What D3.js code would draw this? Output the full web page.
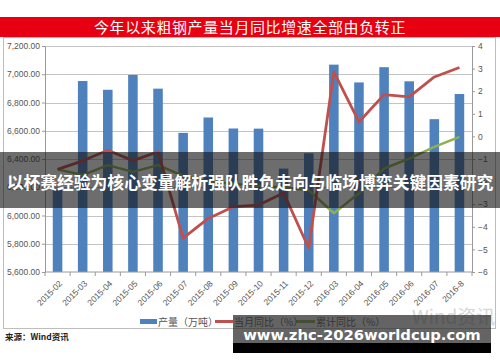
<!DOCTYPE html>
<html>
<head>
<meta charset="utf-8">
<script src="https://cdn.jsdelivr.net/npm/d3@7"></script>
<style>
  body { margin: 0; background: #fff; }
  svg { display: block; font-family: "Liberation Sans", "Noto Sans CJK SC", sans-serif; }
</style>
</head>
<body>
<div id="chart"></div>
<script>
var months = ["2015-02","2015-03","2015-04","2015-05","2015-06","2015-07","2015-08","2015-09","2015-10","2015-11","2015-12","2016-03","2016-04","2016-05","2016-06","2016-07","2016-8"];
var output = [6190,6952,6890,6995,6898,6585,6694,6616,6615,6332,6440,7068,6942,7050,6950,6682,6860];
var monthYoY = [-1.46,-1.08,-0.61,-1.07,-0.68,-4.5,-3.63,-3.11,-3.04,-2.5,-4.95,2.85,0.64,1.85,1.75,2.63,3.05];
var cumYoY = [-1.46,-1.71,-1.27,-1.57,-1.27,-1.75,-2.0,-2.1,-2.2,-2.25,-2.38,-3.4,-2.52,-1.42,-0.98,-0.46,-0.02];
var leftTicks = [5600,5800,6000,6200,6400,6600,6800,7000,7200];
var rightTicks = [-6,-5,-4,-3,-2,-1,0,1,2,3,4];
var legendNames = ["产量（万吨）","当月同比（%）","累计同比（%）"];

(function() {
    var width = 500, height = 362;
    var plotLeft = 45, plotRight = 472, plotTop = 46, plotBottom = 272;

    var svg = d3.select("#chart").append("svg")
        .attr("width", width)
        .attr("height", height);

    // title band
    svg.append("rect").attr("x", 0).attr("y", 17).attr("width", 500).attr("height", 20).attr("fill", "#e60012");
    svg.append("text")
        .attr("x", 250).attr("y", 32.5)
        .attr("text-anchor", "middle")
        .attr("fill", "#fff")
        .style("font-family", "'Noto Sans CJK SC', sans-serif")
        .style("font-size", "15px")
        .style("letter-spacing", "0.6px")
        .text("今年以来粗钢产量当月同比增速全部由负转正");

    // frame
    svg.append("rect").attr("x", 3.5).attr("y", 37.5).attr("width", 492).attr("height", 291)
        .attr("fill", "none").attr("stroke", "#bdbdbd");

    var x = d3.scaleBand().domain(months).range([plotLeft, plotRight]).paddingInner(0.62).paddingOuter(0.31);
    var yL = d3.scaleLinear().domain([5600, 7200]).range([plotBottom, plotTop]);
    var yR = d3.scaleLinear().domain([-6, 4]).range([plotBottom, plotTop]);
    var cx = function(m) { return x(m) + x.bandwidth() / 2; };

    // gridlines
    svg.append("g").selectAll("line").data(leftTicks.slice(1)).enter().append("line")
        .attr("x1", plotLeft).attr("x2", plotRight)
        .attr("y1", function(d) { return Math.round(yL(d)) + 0.5; })
        .attr("y2", function(d) { return Math.round(yL(d)) + 0.5; })
        .attr("stroke", "#c4c4c4");

    // bars
    svg.append("g").selectAll("rect").data(output).enter().append("rect")
        .attr("x", function(d, i) { return x(months[i]); })
        .attr("y", function(d) { return yL(d); })
        .attr("width", x.bandwidth())
        .attr("height", function(d) { return plotBottom - yL(d); })
        .attr("fill", "#4f81bd");

    // axes
    var axL = svg.append("g").attr("transform", "translate(" + plotLeft + ",0)")
        .call(d3.axisLeft(yL).tickValues(leftTicks).tickFormat(d3.format(",.2f")).tickSize(3).tickSizeOuter(0));
    var axR = svg.append("g").attr("transform", "translate(" + plotRight + ",0)")
        .call(d3.axisRight(yR).tickValues(rightTicks).tickSize(3).tickSizeOuter(0));
    [axL, axR].forEach(function(ax) {
        ax.select(".domain").attr("stroke", "#9a9a9a");
        ax.selectAll(".tick line").attr("stroke", "#9a9a9a");
        ax.selectAll("text").attr("fill", "#555").style("font-size", "8.5px").style("font-family", "'Liberation Sans', sans-serif");
    });
    axL.selectAll("text").attr("x", -5);
    axR.selectAll("text").attr("x", 6);

    var axB = svg.append("g").attr("transform", "translate(0," + plotBottom + ")");
    axB.append("line").attr("x1", plotLeft).attr("x2", plotRight).attr("stroke", "#9a9a9a");
    var bounds = months.map(function(m) { return cx(m) - x.step() / 2; }).concat([plotRight]);
    axB.selectAll(".bt").data(bounds).enter().append("line")
        .attr("x1", function(d) { return d; }).attr("x2", function(d) { return d; })
        .attr("y1", 0).attr("y2", 4).attr("stroke", "#9a9a9a");
    axB.selectAll("text").data(months).enter().append("text")
        .attr("transform", function(m) { return "translate(" + (cx(m) + 3) + ",10) rotate(-45)"; })
        .attr("text-anchor", "end")
        .attr("dy", "0.35em")
        .attr("fill", "#555")
        .style("font-size", "8.5px")
        .text(function(m) { return m; });

    // lines
    var line = function(vals) {
        return d3.line().x(function(d, i) { return cx(months[i]); }).y(function(d) { return yR(d); })(vals);
    };
    svg.append("path").attr("d", line(cumYoY)).attr("fill", "none").attr("stroke", "#8fb04f").attr("stroke-width", 2.5).attr("stroke-linejoin", "round");
    svg.append("path").attr("d", line(monthYoY)).attr("fill", "none").attr("stroke", "#c0504d").attr("stroke-width", 2.8).attr("stroke-linejoin", "round");

    // legend
    var lg = svg.append("g").style("font-family", "'Noto Sans CJK SC', sans-serif").style("font-size", "10px");
    lg.append("rect").attr("x", 140).attr("y", 319).attr("width", 17).attr("height", 5).attr("fill", "#4f81bd");
    lg.append("line").attr("x1", 215).attr("x2", 233).attr("y1", 321.5).attr("y2", 321.5).attr("stroke", "#c0504d").attr("stroke-width", 3);
    lg.append("line").attr("x1", 296).attr("x2", 315).attr("y1", 321.5).attr("y2", 321.5).attr("stroke", "#8fb04f").attr("stroke-width", 3);
    [158, 234, 316].forEach(function(lx, i) {
        lg.append("text").attr("x", lx).attr("y", 325.5).attr("fill", "#555").text(legendNames[i]);
    });

    // wind watermark
    svg.append("text").attr("x", 412).attr("y", 324).attr("fill", "#d6d6d6")
        .style("font-family", "'Noto Sans CJK SC', sans-serif").style("font-size", "19px").text("Wind资讯");

    // source
    svg.append("text").attr("x", 5).attr("y", 339.5).attr("fill", "#222")
        .style("font-family", "'Noto Sans CJK SC', sans-serif").style("font-size", "8.5px").style("font-weight", "bold")
        .text("来源：Wind资讯");

    // overlay banners
    svg.append("rect").attr("x", 0).attr("y", 152).attr("width", 500).attr("height", 56).attr("fill", "rgba(20,20,20,0.62)");
    svg.append("text").attr("x", 250).attr("y", 189).attr("text-anchor", "middle").attr("fill", "#fff")
        .style("font-family", "'Noto Sans CJK SC', sans-serif").style("font-size", "16.8px").style("font-weight", "bold")
        .text("以杯赛经验为核心变量解析强队胜负走向与临场博弈关键因素研究");

    svg.append("rect").attr("x", 233).attr("y", 315).attr("width", 258).attr("height", 28).attr("fill", "rgba(40,40,40,0.72)");
    svg.append("rect").attr("x", 233).attr("y", 343).attr("width", 258).attr("height", 10).attr("fill", "#000");
    svg.append("text").attr("x", 362).attr("y", 340).attr("text-anchor", "middle").attr("fill", "#fff")
        .style("font-family", "'DejaVu Sans', sans-serif").style("font-size", "14.8px").style("font-weight", "bold")
        .text("www.zhc-2026worldcup.com");
})();
</script>
</body>
</html>
